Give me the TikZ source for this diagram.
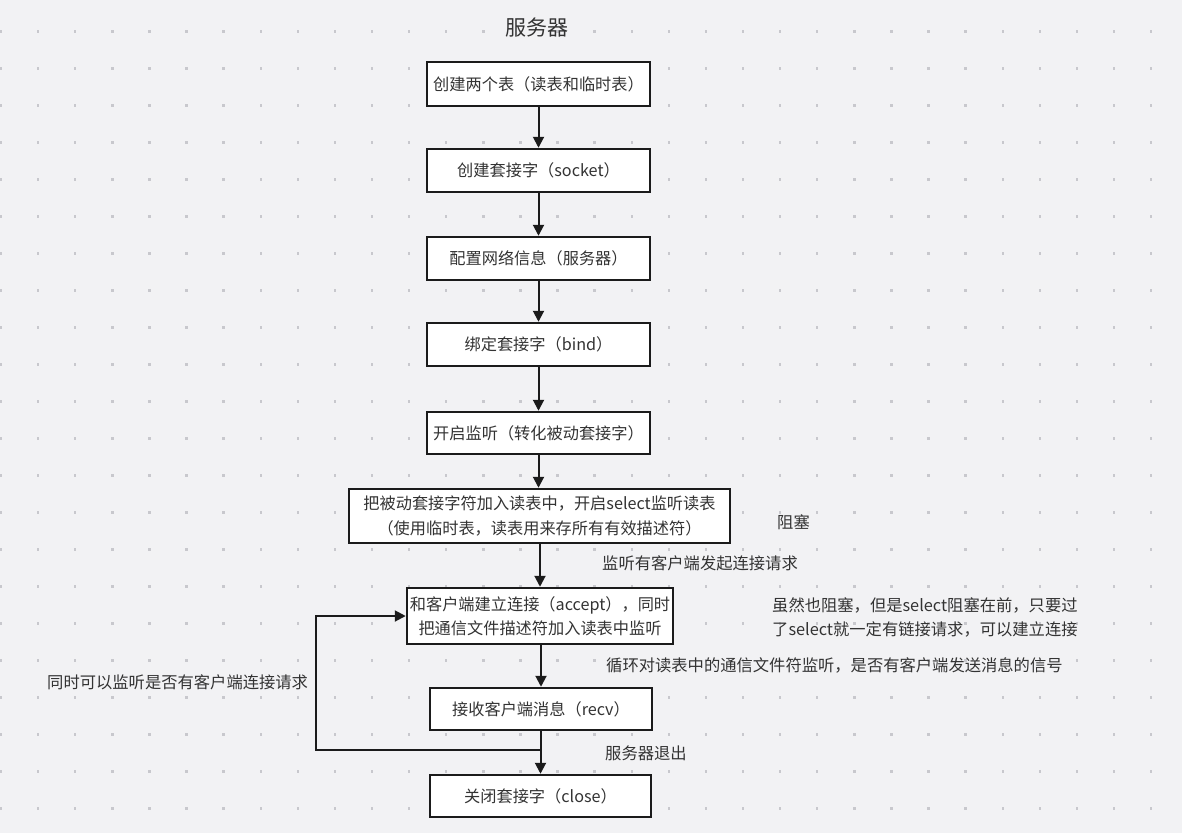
\documentclass[tikz,border=0pt]{standalone}
\usepackage{fontspec}
\setmainfont{Noto Sans CJK SC}
\usetikzlibrary{arrows.meta,calc}
\definecolor{bgc}{HTML}{F2F2F4}
\definecolor{dotc}{HTML}{C8C8CD}
\definecolor{txt}{HTML}{333333}
\definecolor{ln}{HTML}{1B1B1B}
\tikzset{
  box/.style={draw=ln, line width=2.5pt, fill=white, text=txt, font=\fontsize{16.2}{24.5}\selectfont, align=center, inner sep=0pt},
  arr/.style={draw=ln, line width=2pt, -{Triangle[width=11pt,length=11pt]}},
  lnk/.style={draw=ln, line width=2pt},
  note/.style={text=txt, font=\fontsize{16.3}{24}\selectfont, anchor=west, inner sep=0pt, align=left}
}
\begin{document}
\begin{tikzpicture}[x=1pt,y=-1pt]
\useasboundingbox (0,0) rectangle (1182,833);
\fill[bgc] (0,0) rectangle (1182,833);
\foreach \i in {0,...,31}{
  \foreach \j in {0,...,21}{
    \fill[dotc] ({1+37.1*\i-1.2},{31.3+37*\j-1.2}) rectangle ++(2.4,2.4);
  }
}
\node[text=txt, font=\fontsize{21}{24}\selectfont, inner sep=0pt] (title) at (537,28) {服务器};

\node[box, minimum width=223pt, minimum height=44pt] (b1) at (538.5,84) {创建两个表（读表和临时表）};
\node[box, minimum width=223pt, minimum height=43pt] (b2) at (538.5,170.5) {创建套接字（socket）};
\node[box, minimum width=223pt, minimum height=43pt] (b3) at (538.5,258.5) {配置网络信息（服务器）};
\node[box, minimum width=223pt, minimum height=43pt] (b4) at (538.5,344.5) {绑定套接字（bind）};
\node[box, minimum width=223pt, minimum height=42pt] (b5) at (538.5,433) {开启监听（转化被动套接字）};
\node[box, minimum width=381pt, minimum height=54pt] (b6) at (539.5,516) {把被动套接字符加入读表中，开启select监听读表\\（使用临时表，读表用来存所有有效描述符）};
\node[box, minimum width=266pt, minimum height=56pt] (b7) at (540,616) {和客户端建立连接（accept），同时\\把通信文件描述符加入读表中监听};
\node[box, minimum width=222pt, minimum height=42pt] (b8) at (541,709) {接收客户端消息（recv）};
\node[box, minimum width=221pt, minimum height=42pt] (b9) at (540.5,796) {关闭套接字（close）};

\draw[arr] (b1.south) -- (b2.north);
\draw[arr] (b2.south) -- (b3.north);
\draw[arr] (b3.south) -- (b4.north);
\draw[arr] (b4.south) -- (b5.north);
\draw[arr] (b5.south) -- (b5.south |- b6.north);
\draw[arr] (b6.south -| b7.north) -- (b7.north);
\draw[arr] (b7.south -| b8.north) -- (b8.north);
\draw[arr] (b8.south -| b9.north) -- (b9.north);

\coordinate (j) at (541,750);
\coordinate (lc) at (316,750);
\draw[lnk, -{Triangle[width=11pt,length=11pt]}] (j) -- (lc) |- (b7.west);

\node[note] (n1) at (777,522) {阻塞};
\node[note] (n2) at (602,563) {监听有客户端发起连接请求};
\node[note] (n3) at (772,617) {虽然也阻塞，但是select阻塞在前，只要过\\了select就一定有链接请求，可以建立连接};
\node[note] (n4) at (606,665) {循环对读表中的通信文件符监听，是否有客户端发送消息的信号};
\node[note] (n5) at (47,682) {同时可以监听是否有客户端连接请求};
\node[note] (n6) at (605,753) {服务器退出};
\end{tikzpicture}
\end{document}
